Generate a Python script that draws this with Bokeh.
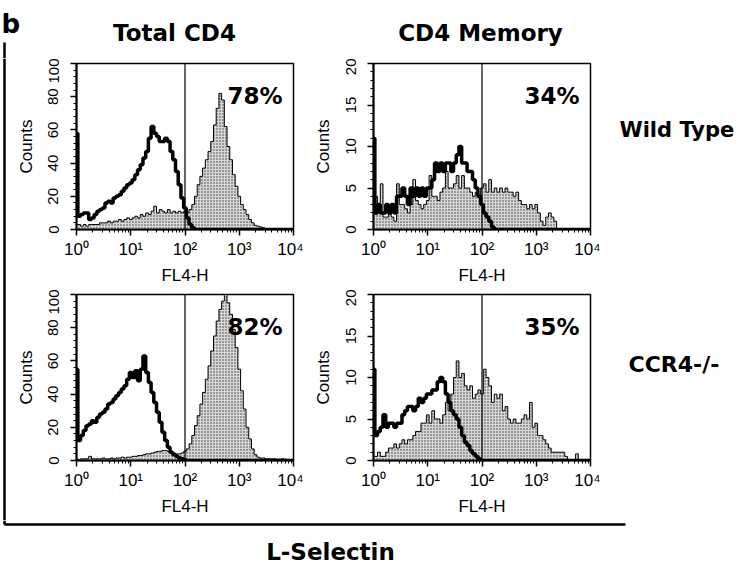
from bokeh.plotting import figure
from bokeh.models import Range1d, FixedTicker, Span, Label, ColumnDataSource
from bokeh.layouts import row, column
from bokeh.embed import file_html
from bokeh.resources import INLINE

BOLD_FONT = "DejaVu Sans"
AXIS_FONT = "Liberation Sans"

# ---------------- data ----------------
BIN_LOG = [round(0.05 * i, 2) for i in range(81)]          # log10(FL4-H) channel centres
X_TICKS = [1, 10, 100, 1000, 10000]
X_TICK_LABELS = ["10\u2070", "10\u00b9", "10\u00b2", "10\u00b3", "10\u2074"]
GATE = 100

COL_TITLES = ["Total CD4", "CD4 Memory"]
ROW_TITLES = ["Wild Type", "CCR4-/-"]
PERCENTS = ["78%", "34%", "82%", "35%"]
X_LABEL = "FL4-H"
Y_LABEL = "Counts"
BOTTOM_LABEL = "L-Selectin"
PANEL_LETTER = "b"

TOTAL_Y_TICKS = [0, 20, 40, 60, 80, 100]
MEMORY_Y_TICKS = [0, 5, 10, 15, 20]

# Wild type, total CD4
TL_OPEN = [58, 8, 9, 10, 10, 6, 7, 9, 11, 12,
           13, 16, 17, 16, 19, 20, 21, 23, 25, 27,
           28, 30, 33, 36, 39, 43, 47, 55, 62, 58,
           56, 53, 53, 55, 53, 47, 42, 35, 27, 19,
           13, 7, 3, 1, 0, 0, 0, 0, 0, 0,
           0, 0, 0, 0, 0, 0, 0, 0, 0, 0,
           0, 0, 0, 0, 0, 0, 0, 0, 0, 0,
           0, 0, 0, 0, 0, 0, 0, 0, 0, 0,
           0]
TL_FILL = [3, 3, 2, 3, 2, 3, 3, 3, 3, 4,
           4, 4, 5, 4, 5, 5, 6, 5, 6, 7,
           6, 7, 8, 7, 9, 8, 10, 9, 11, 14,
           10, 12, 11, 10, 12, 10, 11, 10, 11, 10,
           11, 10, 12, 15, 20, 27, 32, 37, 42, 47,
           53, 63, 73, 82, 78, 62, 50, 42, 33, 26,
           20, 15, 12, 9, 6, 4, 2.5, 2, 1.5, 1,
           0.5, 0, 0, 0, 0, 0, 0, 0, 0, 0,
           0]

# Wild type, CD4 memory
TR_OPEN = [11, 2, 3, 2, 2, 3, 2, 3, 2, 4,
           4, 5, 4, 3, 5, 4, 5, 4, 5, 4,
           5, 5, 6, 8, 7, 8, 7, 8, 8, 7,
           8, 9, 10, 8, 8, 7, 7, 6, 5, 4,
           3, 2, 1.5, 1, 0.3, 0, 0, 0, 0, 0,
           0, 0, 0, 0, 0, 0, 0, 0, 0, 0,
           0, 0, 0, 0, 0, 0, 0, 0, 0, 0,
           0, 0, 0, 0, 0, 0, 0, 0, 0, 0,
           0]
TR_FILL = [3, 4, 3, 5.5, 1.5, 1.5, 2, 1.5, 1, 5.5,
           3, 3, 2.5, 2, 3, 6, 3.5, 3, 2.5, 3,
           3.5, 6.5, 4, 4, 3.5, 4.5, 5, 7, 5, 5,
           5.5, 6.5, 5, 6.5, 5, 5, 4.5, 4, 4.5, 4,
           5, 5.5, 4.5, 6, 4.5, 5, 4.5, 5, 4.5, 5,
           4.5, 4.5, 4, 4.5, 3.5, 3, 3, 2.5, 3, 2.5,
           3, 2, 1, 0.5, 1.5, 2, 1.5, 1, 0, 0,
           0, 0, 0, 0, 0, 0, 0, 0, 0, 0,
           0]

# CCR4-/-, total CD4
BL_OPEN = [55, 12, 15, 18, 21, 22, 24, 23, 26, 28,
           29, 31, 34, 35, 37, 39, 41, 43, 45, 49,
           53, 50, 54, 48, 55, 63, 53, 47, 41, 35,
           29, 23, 17, 12, 8, 5, 3.5, 2.5, 1.5, 1,
           0.5, 0, 0, 0, 0, 0, 0, 0, 0, 0,
           0, 0, 0, 0, 0, 0, 0, 0, 0, 0,
           0, 0, 0, 0, 0, 0, 0, 0, 0, 0,
           0, 0, 0, 0, 0, 0, 0, 0, 0, 0,
           0]
BL_FILL = [1, 0.5, 1, 1, 1, 2.5, 1, 1, 1, 1,
           1.5, 1, 1, 1.5, 1, 1.5, 1.5, 2, 1.5, 2,
           2, 2.5, 2.5, 3, 3, 3.5, 4, 4, 4.5, 5,
           5.5, 5.5, 6, 6, 5.5, 5, 4.5, 4, 4, 4.5,
           5.5, 7, 10, 15, 21, 27, 34, 41, 49, 57,
           66, 75, 84, 91, 96, 100, 95, 88, 79, 68,
           55, 42, 31, 20, 13, 7, 3.5, 2, 1.5, 1.5,
           1, 1, 1, 1, 0.8, 0.8, 1, 0.8, 0.5, 0.5,
           0.5]

# CCR4-/-, CD4 memory
BR_OPEN = [11, 3, 3.5, 4, 5.5, 4, 4.5, 4.5, 4, 4.5,
           4.5, 5.5, 6, 6.5, 6.5, 6, 6.5, 7.5, 7, 7.5,
           8, 8, 8.5, 8.5, 9.5, 10, 9.5, 8, 7, 6,
           5.5, 5, 4, 3, 2.2, 1.8, 1.2, 0.8, 0.5, 0.2,
           0, 0, 0, 0, 0, 0, 0, 0, 0, 0,
           0, 0, 0, 0, 0, 0, 0, 0, 0, 0,
           0, 0, 0, 0, 0, 0, 0, 0, 0, 0,
           0, 0, 0, 0, 0, 0, 0, 0, 0, 0,
           0]
BR_FILL = [0.5, 0.5, 1, 0.5, 0.5, 1, 1.5, 1.5, 2, 1.5,
           2, 2.5, 2, 2.5, 2.5, 3, 3.5, 3.5, 4.5, 4.5,
           5.5, 4.5, 6, 5, 5, 4.5, 5.5, 7, 6, 8,
           10, 12, 10, 10.5, 9, 8.5, 9, 7.5, 8, 8.5,
           8, 11, 10, 9, 7, 8, 7.5, 8, 6, 6.5,
           5, 4.5, 5, 4.5, 4.5, 5, 5.5, 5, 7, 4,
           4.5, 3, 3, 2.5, 2, 1.5, 1, 1, 1, 1,
           1, 0.5, 0, 0, 0, 0.8, 0, 0, 0, 0,
           0]

# ---------------- layout constants (pixels) ----------------
STRIP_W = 8
HEADER_H = 58
FRAME_W = 217
FRAME_H = 166
TOP_B = 5
BOT_B = 60
PANEL_H = TOP_B + FRAME_H + BOT_B
LABEL_W = 140
FOOTER_H = 46
TOTAL_W = 740


def decor(width, height):
    p = figure(width=width, height=height, x_range=Range1d(0, width),
               y_range=Range1d(height, 0), toolbar_location=None,
               output_backend="svg", min_border=0,
               x_axis_location=None, y_axis_location=None)
    p.grid.visible = False
    p.outline_line_color = None
    return p


def bold_label(p, x, y, text, size, align="left"):
    p.add_layout(Label(x=x, y=y, text=text, text_font=BOLD_FONT,
                       text_font_size=size, text_font_style="bold",
                       text_align=align, text_baseline="alphabetic",
                       text_color="black"))


def panel(open_vals, fill_vals, ymax, yticks, minor_step, pct,
          border_left, border_right):
    width = border_left + FRAME_W + border_right
    p = figure(width=width, height=PANEL_H, x_axis_type="log",
               x_range=Range1d(1, 10000), y_range=Range1d(0, ymax),
               toolbar_location=None, output_backend="svg",
               min_border_left=border_left, min_border_right=border_right,
               min_border_top=TOP_B, min_border_bottom=BOT_B)
    p.grid.visible = False
    p.outline_line_color = "black"
    p.outline_line_width = 1.5
    p.background_fill_color = "white"

    src = ColumnDataSource(dict(x=[10 ** v for v in BIN_LOG],
                                o=open_vals, f=fill_vals,
                                z=[0] * len(BIN_LOG)))
    p.varea_step(x="x", y1="z", y2="f", source=src, step_mode="center",
                 fill_color="#d6d6d6", hatch_pattern="dot",
                 hatch_color="#3a3a3a", hatch_scale=3, hatch_weight=1)
    p.step("x", "f", source=src, mode="center", line_color="black",
           line_width=1)
    p.step("x", "o", source=src, mode="center", line_color="black",
           line_width=3.5)
    p.add_layout(Span(location=GATE, dimension="height",
                      line_color="black", line_width=1.2))
    p.add_layout(Label(x=10 ** 3.8, y=ymax * (1 - 32 / FRAME_H), text=pct,
                       text_font=BOLD_FONT, text_font_size="23px",
                       text_font_style="bold", text_align="right",
                       text_baseline="alphabetic", text_color="black"))

    xa = p.xaxis[0]
    xa.ticker = FixedTicker(ticks=X_TICKS,
                            minor_ticks=[m * 10 ** d for d in range(4)
                                         for m in range(2, 10)])
    xa.major_label_overrides = {t: l for t, l in zip(X_TICKS, X_TICK_LABELS)}
    xa.axis_label = X_LABEL
    ya = p.yaxis[0]
    ya.ticker = FixedTicker(ticks=yticks,
                            minor_ticks=[v * minor_step for v in
                                         range(int(ymax / minor_step) + 1)])
    ya.major_label_orientation = "vertical"
    ya.axis_label = Y_LABEL
    for ax in (xa, ya):
        ax.axis_line_color = "black"
        ax.axis_line_width = 2
        ax.major_tick_line_color = "black"
        ax.minor_tick_line_color = "black"
        ax.major_tick_line_width = 1.5
        ax.major_tick_in = 0
        ax.major_tick_out = 6
        ax.minor_tick_in = 0
        ax.minor_tick_out = 3
        ax.major_label_text_font = AXIS_FONT
        ax.major_label_text_color = "black"
        ax.axis_label_text_font = AXIS_FONT
        ax.axis_label_text_font_size = "17px"
        ax.axis_label_text_font_style = "normal"
        ax.axis_label_text_color = "black"
    xa.major_label_text_font_size = "17px"
    ya.major_label_text_font_size = "15px"
    xa.major_label_standoff = 4
    xa.axis_label_standoff = 4
    ya.major_label_standoff = 12
    ya.axis_label_standoff = 10
    return p


# ---------------- figures ----------------
header = decor(TOTAL_W, HEADER_H)
bold_label(header, 1, 23, PANEL_LETTER, "26px")
bold_label(header, 174, 32, COL_TITLES[0], "23px", "center")
bold_label(header, 480, 32, COL_TITLES[1], "23px", "center")
header.segment(x0=[4], y0=[42], x1=[4], y1=[HEADER_H],
               line_color="black", line_width=2.5)

strip = decor(STRIP_W, 2 * PANEL_H)
strip.segment(x0=[4], y0=[0], x1=[4], y1=[2 * PANEL_H],
              line_color="black", line_width=2.5)

tl = panel(TL_OPEN, TL_FILL, 100, TOTAL_Y_TICKS, 4, PERCENTS[0], 68, 10)
tr = panel(TR_OPEN, TR_FILL, 20, MEMORY_Y_TICKS, 1, PERCENTS[1], 70, 10)
bl = panel(BL_OPEN, BL_FILL, 100, TOTAL_Y_TICKS, 4, PERCENTS[2], 68, 10)
br = panel(BR_OPEN, BR_FILL, 20, MEMORY_Y_TICKS, 1, PERCENTS[3], 70, 10)

lab_wt = decor(LABEL_W, PANEL_H)
bold_label(lab_wt, 19, 92, ROW_TITLES[0], "21px")
lab_ko = decor(LABEL_W, PANEL_H)
bold_label(lab_ko, 28, 98, ROW_TITLES[1], "22px")

footer = decor(TOTAL_W, FOOTER_H)
footer.segment(x0=[4, 4], y0=[0, 4], x1=[4, 625], y1=[4, 4],
               line_color="black", line_width=2.5)
bold_label(footer, 330, 31, BOTTOM_LABEL, "23px", "center")

layout = column(header,
                row(strip, column(row(tl, tr, lab_wt), row(bl, br, lab_ko))),
                footer)

open("out.html", "w").write(file_html(layout, INLINE))
